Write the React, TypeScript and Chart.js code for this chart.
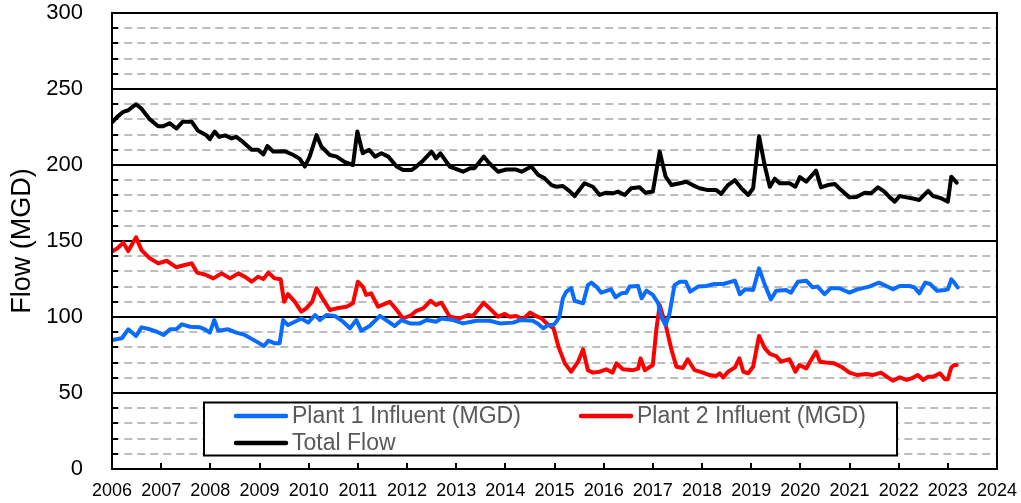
import React, { useEffect, useRef } from "react";
import { Chart, registerables } from "chart.js";

Chart.register(...registerables);

// ---- Data (decimal years) ----
const plant1Years = [2006.0, 2006.2, 2006.33, 2006.49, 2006.6, 2006.77, 2006.91, 2007.05, 2007.18, 2007.31, 2007.42, 2007.59, 2007.79, 2007.89, 2007.99, 2008.08, 2008.16, 2008.36, 2008.53, 2008.7, 2008.94, 2009.09, 2009.18, 2009.31, 2009.41, 2009.48, 2009.58, 2009.72, 2009.85, 2009.99, 2010.13, 2010.23, 2010.36, 2010.53, 2010.7, 2010.84, 2010.97, 2011.07, 2011.24, 2011.45, 2011.62, 2011.75, 2011.89, 2012.06, 2012.26, 2012.4, 2012.59, 2012.7, 2012.94, 2013.14, 2013.41, 2013.68, 2013.89, 2014.16, 2014.3, 2014.56, 2014.67, 2014.77, 2014.87, 2014.98, 2015.04, 2015.1, 2015.17, 2015.24, 2015.34, 2015.41, 2015.58, 2015.68, 2015.75, 2015.85, 2015.95, 2016.15, 2016.24, 2016.36, 2016.46, 2016.53, 2016.7, 2016.77, 2016.87, 2017.0, 2017.11, 2017.17, 2017.26, 2017.34, 2017.44, 2017.55, 2017.67, 2017.76, 2017.92, 2018.09, 2018.25, 2018.43, 2018.67, 2018.77, 2018.88, 2019.04, 2019.16, 2019.28, 2019.4, 2019.51, 2019.71, 2019.81, 2019.95, 2020.12, 2020.25, 2020.35, 2020.49, 2020.62, 2020.79, 2021.0, 2021.16, 2021.4, 2021.6, 2021.71, 2021.88, 2022.02, 2022.22, 2022.32, 2022.42, 2022.54, 2022.64, 2022.78, 2022.94, 2023.0, 2023.07, 2023.13, 2023.2];
const plant1Values = [84.9, 86, 91.9, 87.5, 93.2, 91.9, 90.3, 88.2, 91.9, 91.9, 95.2, 93.6, 93.2, 91.9, 89.7, 98, 91, 91.9, 89.7, 88.2, 83.8, 80.9, 84.4, 82.7, 82.7, 98, 94.7, 96.9, 99, 96.3, 101.3, 98, 101.3, 100.7, 96.9, 92.6, 98, 91, 94.1, 100.7, 96.9, 94.1, 98, 95.8, 95.8, 98, 96.9, 99, 98, 95.8, 97.5, 97.5, 95.8, 96.3, 98, 97.5, 95.4, 92.6, 94.7, 94.7, 97, 100.2, 112.3, 116.7, 119, 110.7, 109, 121, 122.6, 120, 116, 118.2, 113, 115.6, 116, 120, 120.4, 112.3, 117.3, 114.5, 109, 100.2, 94.7, 102.4, 121, 123.2, 123.2, 116.7, 120, 120.4, 121.7, 121.7, 123.9, 115, 118.2, 117.8, 132, 121, 111.6, 117.3, 117.8, 116, 123.2, 123.9, 119.5, 120, 115, 118.9, 118.9, 116, 118.2, 120, 122.6, 121, 118.2, 120.4, 120.4, 119.5, 115.6, 122.6, 121.7, 117.3, 117.8, 118.2, 124.8, 122.6, 119.5];

const plant2Years = [2006.0, 2006.11, 2006.23, 2006.33, 2006.49, 2006.6, 2006.77, 2006.94, 2007.11, 2007.31, 2007.48, 2007.62, 2007.73, 2007.89, 2008.06, 2008.23, 2008.4, 2008.57, 2008.7, 2008.84, 2008.97, 2009.08, 2009.18, 2009.31, 2009.43, 2009.5, 2009.58, 2009.72, 2009.85, 2009.95, 2010.07, 2010.16, 2010.26, 2010.43, 2010.57, 2010.77, 2010.9, 2011.0, 2011.1, 2011.17, 2011.27, 2011.41, 2011.65, 2011.79, 2011.92, 2012.09, 2012.19, 2012.33, 2012.48, 2012.59, 2012.7, 2012.87, 2013.07, 2013.24, 2013.34, 2013.56, 2013.68, 2013.85, 2013.99, 2014.09, 2014.22, 2014.36, 2014.5, 2014.62, 2014.74, 2014.84, 2014.98, 2015.08, 2015.21, 2015.34, 2015.48, 2015.58, 2015.68, 2015.78, 2015.92, 2016.05, 2016.18, 2016.26, 2016.39, 2016.6, 2016.7, 2016.75, 2016.84, 2017.0, 2017.07, 2017.14, 2017.27, 2017.38, 2017.48, 2017.61, 2017.71, 2017.85, 2018.02, 2018.15, 2018.29, 2018.36, 2018.43, 2018.53, 2018.67, 2018.76, 2018.84, 2018.94, 2019.04, 2019.16, 2019.28, 2019.38, 2019.51, 2019.61, 2019.78, 2019.9, 2019.98, 2020.12, 2020.24, 2020.32, 2020.4, 2020.52, 2020.69, 2020.83, 2021.0, 2021.16, 2021.34, 2021.47, 2021.64, 2021.78, 2021.88, 2022.02, 2022.16, 2022.26, 2022.39, 2022.5, 2022.6, 2022.7, 2022.84, 2022.94, 2023.0, 2023.07, 2023.13, 2023.18];
const plant2Values = [143, 145.2, 148.9, 143.4, 152.4, 144, 138.6, 135.3, 137, 132.7, 134.2, 135.3, 129.2, 128, 125.4, 128.7, 125.4, 128.7, 126.5, 123.2, 126.5, 125, 129.2, 125.4, 124.8, 110, 115, 110, 103.5, 105.7, 110, 118.9, 113.4, 104.6, 105.7, 106.8, 109, 123.2, 120, 114.5, 115.6, 106.8, 110, 104.6, 99, 101.3, 104.1, 105.7, 110.7, 107.9, 109.4, 100.2, 99, 101.3, 100.7, 109.4, 105.7, 100.2, 102, 100.2, 100.7, 98.5, 102.9, 100.7, 99, 95.8, 92.6, 80.5, 69.5, 64, 70.6, 78.7, 65, 63.4, 64, 65.6, 63.4, 69.5, 65.6, 65, 66, 72.8, 65, 68.4, 91.4, 107.9, 93.6, 78.3, 67.3, 66.5, 72.2, 65, 63.4, 61.8, 61.2, 63, 60.3, 64, 66.9, 72.8, 64, 63, 67.3, 87.5, 79.4, 75.7, 74.3, 70.6, 72.2, 64, 68.4, 66.2, 72.8, 77.2, 70.6, 70, 69.5, 67.3, 63.4, 61.8, 62.5, 61.8, 63.4, 60.3, 58.1, 60.3, 58.6, 59.6, 61.8, 58.6, 60.7, 60.7, 63, 59, 59, 66.9, 68.4, 68.4];

const totalYears = [2006.0, 2006.1, 2006.23, 2006.33, 2006.49, 2006.6, 2006.77, 2006.94, 2007.04, 2007.17, 2007.31, 2007.44, 2007.62, 2007.75, 2007.92, 2007.99, 2008.09, 2008.18, 2008.3, 2008.43, 2008.53, 2008.67, 2008.84, 2008.97, 2009.08, 2009.16, 2009.28, 2009.52, 2009.69, 2009.82, 2009.92, 2010.02, 2010.16, 2010.26, 2010.43, 2010.57, 2010.73, 2010.9, 2010.99, 2011.1, 2011.23, 2011.35, 2011.48, 2011.62, 2011.79, 2011.92, 2012.09, 2012.19, 2012.33, 2012.5, 2012.59, 2012.68, 2012.87, 2013.14, 2013.28, 2013.37, 2013.56, 2013.68, 2013.85, 2014.02, 2014.22, 2014.33, 2014.53, 2014.67, 2014.8, 2014.94, 2015.04, 2015.17, 2015.3, 2015.41, 2015.61, 2015.78, 2015.92, 2016.05, 2016.19, 2016.29, 2016.43, 2016.56, 2016.73, 2016.85, 2017.0, 2017.14, 2017.26, 2017.38, 2017.55, 2017.68, 2017.81, 2017.95, 2018.12, 2018.29, 2018.39, 2018.53, 2018.67, 2018.8, 2018.94, 2019.04, 2019.16, 2019.28, 2019.38, 2019.48, 2019.58, 2019.78, 2019.9, 2019.99, 2020.12, 2020.32, 2020.42, 2020.56, 2020.7, 2020.83, 2021.0, 2021.14, 2021.31, 2021.44, 2021.58, 2021.71, 2021.82, 2021.92, 2022.02, 2022.16, 2022.29, 2022.42, 2022.6, 2022.7, 2022.87, 2023.0, 2023.07, 2023.12, 2023.18];
const totalValues = [228, 231.5, 235, 236, 240, 237, 230, 225.5, 225.5, 227.5, 224, 228.5, 228.5, 222.5, 219.5, 217, 222, 218.5, 219.5, 217.5, 218.5, 215, 210, 210, 207, 212.5, 208.8, 209, 206.6, 204, 199, 205.5, 219.7, 212, 206.6, 205.5, 202, 200, 222, 207.7, 210, 205.5, 207.7, 205.5, 199, 196.7, 196.7, 199, 203, 208.8, 204.4, 207.7, 199, 195.6, 197.8, 197.8, 205.5, 201, 195.6, 197, 197, 195.6, 199, 193.4, 191.2, 186.8, 185.7, 186.2, 183, 179.6, 188, 185.7, 180.3, 181.8, 181.4, 182.5, 180.3, 184.7, 185.3, 181.8, 182.5, 208.8, 192.3, 186.8, 188, 189, 186.8, 184.7, 183.5, 183.5, 181, 186.8, 190, 184.7, 180.3, 184.7, 219, 199, 185.7, 191, 188, 188, 185.7, 192, 189, 196.3, 185.3, 186.8, 187.5, 183.5, 178.7, 179, 181.8, 181.4, 185.3, 182.5, 178.7, 175.9, 179.6, 178.7, 178, 177, 183, 179.6, 178, 175.9, 192.3, 190.6, 188.4];

const seriesLabels = ["Plant 1 Influent (MGD)", "Plant 2 Influent (MGD)", "Total Flow"];
const seriesColors = ["#0a6cff", "#ff0000", "#000000"];
const yAxisTitle = "Flow (MGD)";

const toPoints = (xs: number[], ys: number[]) => xs.map((x, i) => ({ x, y: ys[i] }));

const FONT = "'Liberation Sans', Arial, sans-serif";

const frameAndTicksPlugin = {
  id: "frameAndTicks",
  afterDatasetsDraw(chart: any) {
    const { ctx, chartArea, scales } = chart;
    const xs = scales.x;
    const ys = scales.y;
    ctx.save();
    ctx.strokeStyle = "#000";
    ctx.lineWidth = 2;
    for (let yr = 2007; yr <= 2023; yr++) {
      const px = Math.round(xs.getPixelForValue(yr));
      ctx.beginPath();
      ctx.moveTo(px, chartArea.bottom);
      ctx.lineTo(px, chartArea.bottom - 6);
      ctx.stroke();
    }
    for (let v = 10; v < 300; v += 10) {
      const py = Math.round(ys.getPixelForValue(v));
      ctx.beginPath();
      ctx.moveTo(chartArea.left, py);
      ctx.lineTo(chartArea.left + 6, py);
      ctx.stroke();
    }
    ctx.strokeRect(chartArea.left, chartArea.top, chartArea.right - chartArea.left, chartArea.bottom - chartArea.top);
    ctx.restore();
  },
};

const boxLegendPlugin = {
  id: "boxLegend",
  afterDraw(chart: any) {
    const { ctx, chartArea } = chart;
    const bx = chartArea.left + 92;
    const by = chartArea.top + 389.5;
    const bw = 693;
    const bh = 53;
    ctx.save();
    ctx.fillStyle = "#fff";
    ctx.fillRect(bx, by, bw, bh);
    ctx.strokeStyle = "#000";
    ctx.lineWidth = 2;
    ctx.strokeRect(bx, by, bw, bh);
    const items = [
      { i: 0, sx: bx + 30, row: 0 },
      { i: 1, sx: bx + 375, row: 0 },
      { i: 2, sx: bx + 30, row: 1 },
    ];
    ctx.font = `23px ${FONT}`;
    ctx.textBaseline = "middle";
    ctx.textAlign = "left";
    items.forEach(({ i, sx, row }) => {
      const ly = by + 13.5 + row * 27;
      ctx.strokeStyle = seriesColors[i];
      ctx.lineWidth = 4.5;
      ctx.lineCap = "round";
      ctx.beginPath();
      ctx.moveTo(sx + 2, ly);
      ctx.lineTo(sx + 52, ly);
      ctx.stroke();
      ctx.fillStyle = "#595959";
      ctx.fillText(chart.data.datasets[i].label, sx + 58, ly + 1);
    });
    ctx.restore();
  },
};

export default function App() {
  const canvasRef = useRef<HTMLCanvasElement | null>(null);

  useEffect(() => {
    document.body.style.margin = "0";
    const canvas = canvasRef.current;
    if (!canvas) return;
    const chart = new Chart(canvas, {
      type: "line",
      data: {
        datasets: [
          { label: seriesLabels[0], data: toPoints(plant1Years, plant1Values) },
          { label: seriesLabels[1], data: toPoints(plant2Years, plant2Values) },
          { label: seriesLabels[2], data: toPoints(totalYears, totalValues) },
        ].map((d, i) => ({
          ...d,
          borderColor: seriesColors[i],
          backgroundColor: seriesColors[i],
          borderWidth: 4,
          pointRadius: 0,
          tension: 0,
          fill: false,
          borderJoinStyle: "round" as const,
          borderCapStyle: "round" as const,
        })),
      },
      options: {
        animation: false,
        responsive: false,
        devicePixelRatio: 1,
        layout: { padding: { top: 13, right: 24, left: 0, bottom: 0 } },
        plugins: {
          legend: { display: false },
          tooltip: { enabled: false },
        },
        scales: {
          x: {
            type: "linear",
            min: 2006,
            max: 2024,
            afterFit: (s: any) => {
              s.height = 34;
              s.paddingLeft = 0;
              s.paddingRight = 0;
            },
            ticks: {
              stepSize: 1,
              autoSkip: false,
              maxRotation: 0,
              padding: 11,
              color: "#000",
              font: { family: FONT, size: 18 },
              callback: (v: any) => String(v),
            },
            grid: { display: false, drawTicks: false },
            border: { display: true, color: "#000", width: 2 },
          },
          y: {
            min: 0,
            max: 300,
            afterFit: (s: any) => {
              s.width = 112;
              s.paddingTop = 0;
              s.paddingBottom = 0;
            },
            ticks: {
              stepSize: 10,
              autoSkip: false,
              padding: 29,
              color: "#000",
              font: { family: FONT, size: 22 },
              callback: (v: any) => (Number(v) % 50 === 0 ? String(v) : ""),
            },
            title: {
              display: true,
              text: yAxisTitle,
              color: "#000",
              font: { family: FONT, size: 27 },
              padding: { top: 6, bottom: 0 },
            },
            grid: {
              drawTicks: false,
              color: (c: any) => (c.tick && c.tick.value % 50 === 0 ? "#000" : "#bdbdbd"),
              lineWidth: 2,
            },
            border: {
              display: true,
              color: "#000",
              width: 2,
              dash: (c: any) => (c.tick && c.tick.value % 50 !== 0 ? [8, 5] : []),
              dashOffset: 1.7,
            },
          },
        },
      },
      plugins: [frameAndTicksPlugin, boxLegendPlugin],
    } as any);
    return () => chart.destroy();
  }, []);

  return (
    <div style={{ width: 1021, height: 503 }}>
      <canvas ref={canvasRef} width={1021} height={503} style={{ display: "block" }} />
    </div>
  );
}
